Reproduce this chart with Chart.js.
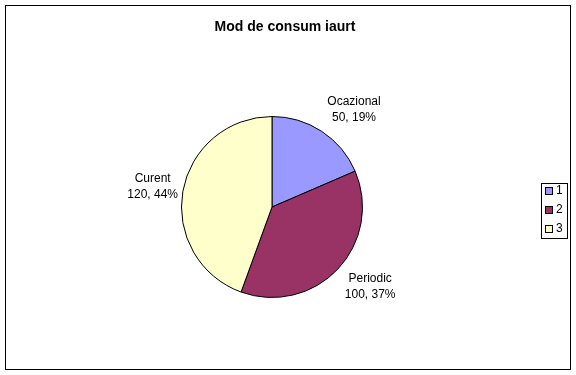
<!DOCTYPE html>
<html>
<head>
<meta charset="utf-8">
<script src="https://cdn.jsdelivr.net/npm/chart.js@4"></script>
<style>
  html, body { margin: 0; padding: 0; background: #fff; }
  #wrap { width: 576px; height: 375px; }
</style>
</head>
<body>
<div id="wrap"><canvas id="pie" width="576" height="375"></canvas></div>
<script>
// Chart data
const categories = ['Ocazional', 'Periodic', 'Curent'];
const values = [50, 100, 120];
const legendLabels = ['1', '2', '3'];
const colors = ['#9999FF', '#993366', '#FFFFCC'];

const fontFamily = '"Liberation Sans", Arial, sans-serif';

// draws outer frame, slice labels and the legend box (Excel style)
const excelDecor = {
    id: 'excelDecor',
    beforeDraw(chart) {
        const ctx = chart.ctx;
        ctx.save();
        ctx.fillStyle = '#fff';
        ctx.fillRect(0, 0, chart.width, chart.height);
        ctx.strokeStyle = '#000';
        ctx.lineWidth = 1;
        ctx.strokeRect(5.5, 5.5, 565, 364);
        ctx.restore();
    },
    afterDraw(chart) {
        const ctx = chart.ctx;
        const meta = chart.getDatasetMeta(0);
        const total = values.reduce((a, b) => a + b, 0);
        ctx.save();

        // title
        ctx.fillStyle = '#000';
        ctx.font = 'bold 14px ' + fontFamily;
        ctx.textAlign = 'center';
        ctx.textBaseline = 'middle';
        ctx.fillText('Mod de consum iaurt', 285, 27);

        // slice labels
        ctx.font = '12px ' + fontFamily;
        meta.data.forEach((arc, i) => {
            const mid = (arc.startAngle + arc.endAngle) / 2;
            const dx = Math.cos(mid), dy = Math.sin(mid);
            const d = arc.outerRadius + 26;
            const x = arc.x + dx * d + Math.sign(dx) * (4 + 20 * dy * dy);
            const y = arc.y + dy * d;
            const pct = Math.round(values[i] / total * 100);
            ctx.fillText(categories[i], x, y - 8);
            ctx.fillText(values[i] + ', ' + pct + '%', x, y + 8);
        });

        // legend
        ctx.strokeStyle = '#000';
        ctx.lineWidth = 1;
        ctx.strokeRect(541.5, 183.5, 26, 55);
        ctx.textAlign = 'left';
        legendLabels.forEach((lab, i) => {
            const y = 191 + i * 19;
            ctx.fillStyle = colors[i];
            ctx.fillRect(545.5, y - 3.5, 7, 7);
            ctx.strokeRect(545.5, y - 3.5, 7, 7);
            ctx.fillStyle = '#000';
            ctx.fillText(lab, 556, y);
        });
        ctx.restore();
    }
};

const ctx = document.getElementById('pie');
const myChart = new Chart(ctx, {
    type: 'pie',
    data: {
        labels: categories,
        datasets: [{
            data: values,
            backgroundColor: colors,
            borderColor: '#000',
            borderWidth: 1,
            borderAlign: 'center'
        }]
    },
    options: {
        responsive: false,
        animation: false,
        events: [],
        layout: { padding: { left: 181, right: 213, top: 116, bottom: 77 } },
        plugins: {
            legend: { display: false },
            title: { display: false },
            tooltip: { enabled: false }
        }
    },
    plugins: [excelDecor]
});
</script>
</body>
</html>
